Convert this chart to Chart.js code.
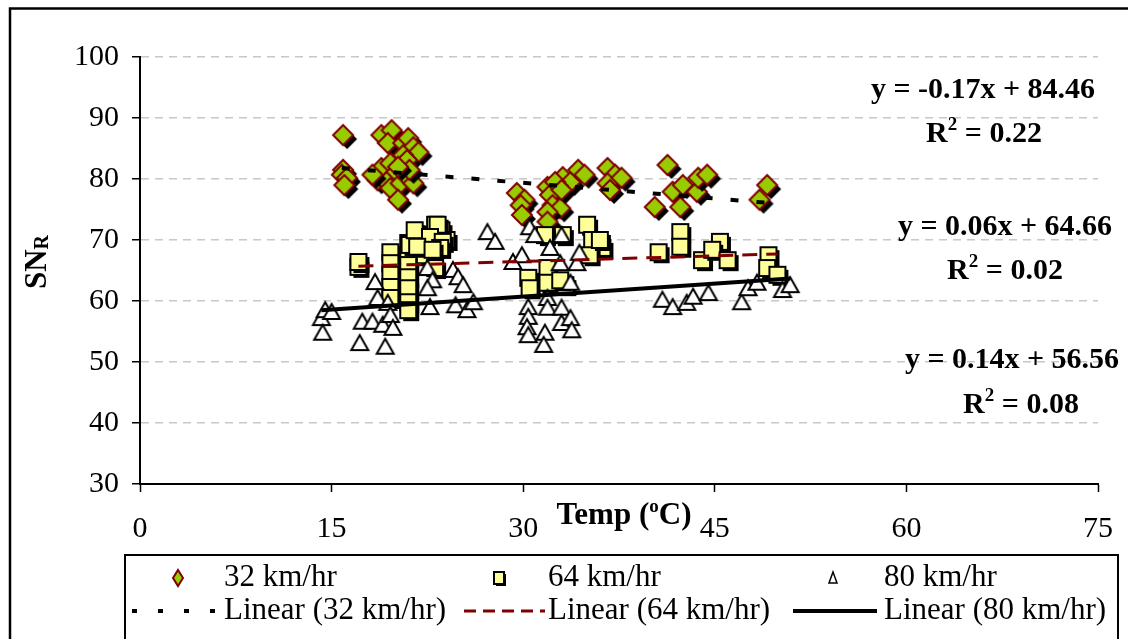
<!DOCTYPE html>
<html>
<head>
<meta charset="utf-8">
<script src="https://cdn.jsdelivr.net/npm/chart.js@4"></script>
<style>
  body { margin: 0; background: #fff; }
  #wrap { width: 1128px; height: 639px; position: relative; }
</style>
</head>
<body>
<div id="wrap"><canvas id="chart"></canvas></div>
<script>
// values
var temp32 = [15.9, 15.9, 15.8, 16.2, 16.0,
  18.9, 19.7, 19.4, 20.6, 21.0, 21.4, 21.8, 20.6, 20.9, 18.9, 19.6, 20.0, 18.6, 19.3, 19.6, 20.4, 21.0, 21.4, 20.2, 18.2, 21.1, 20.2,
  29.5, 30.1, 29.8, 29.9, 31.9, 32.1, 32.3, 32.9, 31.9, 33.1, 33.7, 34.3, 34.8, 32.5, 33.0, 36.6, 37.2, 36.6, 37.7, 36.8, 31.9,
  41.3, 40.3, 41.7, 42.5, 42.3, 43.6, 43.7, 44.4, 49.1, 48.5];
var sn32 = [87.2, 81.5, 80.7, 80.2, 79.0,
  87.2, 88.0, 85.9, 85.9, 86.7, 85.2, 84.4, 83.9, 83.1, 81.8, 82.6, 81.0, 79.8, 79.5, 78.5, 79.3, 80.2, 79.3, 76.6, 80.7, 81.5, 82.0,
  77.7, 76.6, 75.7, 74.1, 78.7, 77.4, 75.7, 75.2, 74.6, 80.3, 79.5, 81.5, 80.7, 79.5, 78.2, 81.8, 80.7, 79.3, 80.2, 78.2, 73.0,
  82.3, 75.4, 77.9, 79.0, 75.4, 77.9, 80.2, 80.7, 79.0, 76.6];

var temp64 = [17.1, 17.1,
  19.6, 19.6, 19.6, 19.6, 19.6,
  21.0, 21.0, 21.0, 21.0, 21.0, 21.0, 21.0,
  21.1, 21.9, 23.1, 23.6, 24.0, 22.3, 21.5, 23.3, 22.7, 23.7, 23.5, 21.7, 22.9, 23.1,
  30.4, 30.5, 31.9, 31.9, 33.3, 33.1, 31.7, 35.0, 35.4, 36.2, 35.2, 36.0, 32.9,
  40.6, 42.3, 42.3, 44.0, 45.4, 44.8, 46.0, 49.2, 49.1, 49.9];
var sn64 = [65.6, 66.4,
  68.0, 66.2, 64.3, 62.3, 60.5,
  69.5, 67.5, 65.9, 63.9, 62.1, 59.8, 58.5,
  69.2, 70.8, 72.5, 71.6, 70.0, 67.5, 71.6, 72.5, 70.5, 69.7, 68.7, 68.9, 68.4, 65.4,
  63.8, 62.1, 65.4, 63.0, 62.6, 70.8, 70.8, 72.5, 70.0, 68.7, 67.5, 70.0, 63.4,
  68.0, 71.3, 68.9, 66.7, 69.7, 68.4, 66.7, 67.5, 65.4, 64.3];

var temp80 = [14.2, 14.3, 14.5, 15.0,
  17.4, 17.2, 18.4, 18.6, 18.2, 19.0, 19.4, 19.6, 19.2, 19.8,
  22.5, 22.9, 22.5, 22.7, 24.5, 24.9, 25.3, 24.7, 25.6, 26.1,
  27.2, 27.8,
  29.2, 29.9, 30.4, 30.4, 30.3, 30.4, 31.9, 31.9, 31.7, 31.6, 33.0, 33.0, 33.7, 33.8, 33.7, 32.9, 32.1, 33.0, 34.2, 34.4, 30.5, 30.9,
  40.9, 41.7, 42.8, 43.3, 44.5, 47.1, 47.6, 48.3, 50.3, 50.9];
var sn80 = [57.2, 54.8, 58.5, 58.2,
  56.6, 53.1, 63.1, 60.5, 56.6, 56.1, 59.7, 57.7, 52.5, 55.6,
  65.4, 63.4, 62.1, 59.0, 65.1, 63.9, 62.6, 59.3, 58.5, 59.8,
  71.3, 69.7,
  66.4, 67.5, 59.0, 57.4, 55.7, 54.4, 60.5, 58.9, 54.8, 52.8, 58.9, 56.4, 57.2, 55.2, 63.0, 66.2, 68.7, 70.8, 66.2, 67.9, 72.1, 70.8,
  60.2, 59.0, 59.7, 60.7, 61.3, 59.8, 62.1, 63.0, 61.8, 62.6];

// trendline end points (Excel linear fits)
var trend32X = [15.8, 49.1], trend32Y = [81.8, 76.1];
var trend64X = [17.1, 49.9], trend64Y = [65.7, 67.7];
var trend80X = [14.2, 50.9], trend80Y = [58.5, 63.7];

var seriesNames = ['32 km/hr', '64 km/hr', '80 km/hr'];
var eqText = ['y = -0.17x + 84.46', 'y = 0.06x + 64.66', 'y = 0.14x + 56.56'];
var r2Text = ['0.22', '0.02', '0.08'];
var xTicks = [0, 15, 30, 45, 60, 75];
var yTicks = [30, 40, 50, 60, 70, 80, 90, 100];

var SERIF = "'Liberation Serif', 'Times New Roman', serif";

function pts(xs, ys) {
  return xs.map(function (v, i) { return { x: v, y: ys[i] }; });
}

// marker bitmaps, so each marker carries its own drop shadow
function markerImage(kind) {
  var c = document.createElement('canvas');
  c.width = 36; c.height = 36;
  var g = c.getContext('2d');
  var cx = 18, cy = 18;
  function shape(dx, dy) {
    g.beginPath();
    if (kind === 'diamond') {
      g.moveTo(cx + dx, cy - 10 + dy);
      g.lineTo(cx + 10 + dx, cy + dy);
      g.lineTo(cx + dx, cy + 10 + dy);
      g.lineTo(cx - 10 + dx, cy + dy);
    } else if (kind === 'square') {
      g.rect(cx - 8 + dx, cy - 8 + dy, 16, 16);
    } else {
      g.moveTo(cx + dx, cy - 8 + dy);
      g.lineTo(cx + 8.5 + dx, cy + 7 + dy);
      g.lineTo(cx - 8.5 + dx, cy + 7 + dy);
    }
    g.closePath();
  }
  g.lineJoin = 'miter';
  if (kind === 'diamond') {
    shape(4, 4); g.fillStyle = '#000'; g.fill();
    shape(0, 0); g.fillStyle = '#99CC00'; g.fill();
    g.lineWidth = 2; g.strokeStyle = '#800000'; g.stroke();
  } else if (kind === 'square') {
    shape(3, 3); g.fillStyle = '#000'; g.fill();
    shape(0, 0); g.fillStyle = '#FFFF99'; g.fill();
    g.lineWidth = 2; g.strokeStyle = '#000'; g.stroke();
  } else {
    shape(0, 0); g.fillStyle = '#fff'; g.fill();
    g.lineWidth = 2; g.strokeStyle = '#000'; g.stroke();
  }
  return c;
}

// draws text pieces (with super/subscripts) centred on cx
function drawParts(ctx, parts, cx, cy) {
  var total = 0;
  parts.forEach(function (p) { ctx.font = p.font; p.w = ctx.measureText(p.t).width; total += p.w; });
  var x = cx - total / 2;
  ctx.textAlign = 'left';
  ctx.textBaseline = 'alphabetic';
  parts.forEach(function (p) {
    ctx.font = p.font;
    ctx.fillText(p.t, x, cy + (p.dy || 0));
    x += p.w;
  });
}

var decorPlugin = {
  id: 'decor',
  afterDraw: function (chart) {
    var ctx = chart.ctx;
    ctx.save();
    ctx.fillStyle = '#000';
    var bold = 'bold 30px ' + SERIF, boldSmall = 'bold 19px ' + SERIF;

    // outer frame
    ctx.strokeStyle = '#000';
    ctx.lineWidth = 2.5;
    ctx.beginPath();
    ctx.moveTo(10, 645); ctx.lineTo(10, 8.5); ctx.lineTo(1135, 8.5);
    ctx.stroke();

    // trendline equations
    var eqPos = [[983, 98, 984, 142], [1005, 235, 1005, 279], [1012, 368, 1021, 413]];
    eqPos.forEach(function (p, i) {
      drawParts(ctx, [{ t: eqText[i], font: bold }], p[0], p[1]);
      drawParts(ctx, [{ t: 'R', font: bold }, { t: '2', font: boldSmall, dy: -12 }, { t: ' = ' + r2Text[i], font: bold }], p[2], p[3]);
    });

    // x title
    drawParts(ctx, [{ t: 'Temp (', font: 'bold 31px ' + SERIF }, { t: 'o', font: boldSmall, dy: -12 }, { t: 'C)', font: 'bold 31px ' + SERIF }], 624, 524);

    // y title
    ctx.save();
    ctx.translate(46, 262);
    ctx.rotate(-Math.PI / 2);
    drawParts(ctx, [{ t: 'SN', font: 'bold 31px ' + SERIF }, { t: 'R', font: 'bold 20px ' + SERIF, dy: 2 }], 0, 0);
    ctx.restore();

    // legend
    ctx.lineWidth = 2;
    ctx.strokeStyle = '#000';
    ctx.strokeRect(125, 555, 993, 100);
    ctx.font = '31px ' + SERIF;
    ctx.textBaseline = 'middle';
    ctx.textAlign = 'left';
    var row1 = 578, row2 = 611;
    var cols = [[178, 224, 132, 216], [499, 548, 464, 545], [833, 884, 793, 877]];
    cols.forEach(function (c, i) {
      ctx.fillStyle = '#000';
      ctx.fillText(seriesNames[i], c[1], row1);
      ctx.fillText('Linear (' + seriesNames[i] + ')', c[1], row2);
    });
    // legend markers
    ctx.lineWidth = 2;
    ctx.beginPath();
    ctx.moveTo(178, 570); ctx.lineTo(183, 578); ctx.lineTo(178, 586); ctx.lineTo(173, 578); ctx.closePath();
    ctx.fillStyle = '#99CC00'; ctx.fill(); ctx.strokeStyle = '#800000'; ctx.stroke();
    ctx.fillStyle = '#000'; ctx.fillRect(496, 574, 10, 12);
    ctx.fillStyle = '#FFFF99'; ctx.fillRect(494, 572, 10, 12);
    ctx.strokeStyle = '#000'; ctx.strokeRect(494, 572, 10, 12);
    ctx.beginPath();
    ctx.moveTo(833, 572); ctx.lineTo(837, 583); ctx.lineTo(829, 583); ctx.closePath();
    ctx.fillStyle = '#fff'; ctx.fill(); ctx.lineWidth = 1.5; ctx.stroke();
    // legend lines
    ctx.strokeStyle = '#000'; ctx.lineWidth = 4; ctx.setLineDash([5, 21]);
    ctx.beginPath(); ctx.moveTo(cols[0][2], row2); ctx.lineTo(cols[0][3], row2); ctx.stroke();
    ctx.strokeStyle = '#800000'; ctx.lineWidth = 3; ctx.setLineDash([12, 7]);
    ctx.beginPath(); ctx.moveTo(cols[1][2], row2); ctx.lineTo(cols[1][3], row2); ctx.stroke();
    ctx.strokeStyle = '#000'; ctx.lineWidth = 4; ctx.setLineDash([]);
    ctx.beginPath(); ctx.moveTo(cols[2][2], row2); ctx.lineTo(cols[2][3], row2); ctx.stroke();
    ctx.restore();
  }
};

var ctx = document.getElementById('chart').getContext('2d');
var chart = new Chart(ctx, {
  type: 'scatter',
  data: {
    datasets: [
      { label: 'Linear (32 km/hr)', type: 'line', data: pts(trend32X, trend32Y), showLine: true, pointRadius: 0,
        borderColor: '#000', borderWidth: 4, borderDash: [8, 18], fill: false, order: 0 },
      { label: 'Linear (64 km/hr)', type: 'line', data: pts(trend64X, trend64Y), showLine: true, pointRadius: 0,
        borderColor: '#800000', borderWidth: 3, borderDash: [15, 9], fill: false, order: 0 },
      { label: 'Linear (80 km/hr)', type: 'line', data: pts(trend80X, trend80Y), showLine: true, pointRadius: 0,
        borderColor: '#000', borderWidth: 4, fill: false, order: 0 },
      { label: seriesNames[2], data: pts(temp80, sn80), pointStyle: markerImage('triangle'), pointRadius: 10, order: 1 },
      { label: seriesNames[1], data: pts(temp64, sn64), pointStyle: markerImage('square'), pointRadius: 10, order: 2 },
      { label: seriesNames[0], data: pts(temp32, sn32), pointStyle: markerImage('diamond'), pointRadius: 10, order: 3 }
    ]
  },
  options: {
    responsive: true,
    maintainAspectRatio: false,
    animation: false,
    layout: { padding: { top: 57, right: 30, bottom: 0, left: 0 } },
    plugins: { legend: { display: false }, tooltip: { enabled: false } },
    scales: {
      x: {
        type: 'linear', min: 0, max: 75,
        afterFit: function (s) { s.height = 155; s.paddingLeft = 0; s.paddingRight = 0; },
        afterBuildTicks: function (s) { s.ticks = xTicks.map(function (v) { return { value: v }; }); },
        grid: { drawOnChartArea: false, tickLength: 8, tickColor: '#000', tickWidth: 1.5 },
        border: { color: '#000', width: 2 },
        ticks: { color: '#000', padding: 19, maxRotation: 0, font: { family: SERIF, size: 30 } }
      },
      y: {
        type: 'linear', min: 30, max: 100,
        afterFit: function (s) { s.width = 140; s.paddingTop = 0; s.paddingBottom = 0; },
        afterBuildTicks: function (s) { s.ticks = yTicks.map(function (v) { return { value: v }; }); },
        grid: { color: '#c8c8c8', lineWidth: 1.5, tickLength: 8, tickColor: '#000', tickWidth: 1.5 },
        border: { color: '#000', width: 2, dash: [8, 6] },
        ticks: { color: '#000', padding: 13, font: { family: SERIF, size: 30 } }
      }
    }
  },
  plugins: [decorPlugin]
});
</script>
</body>
</html>
